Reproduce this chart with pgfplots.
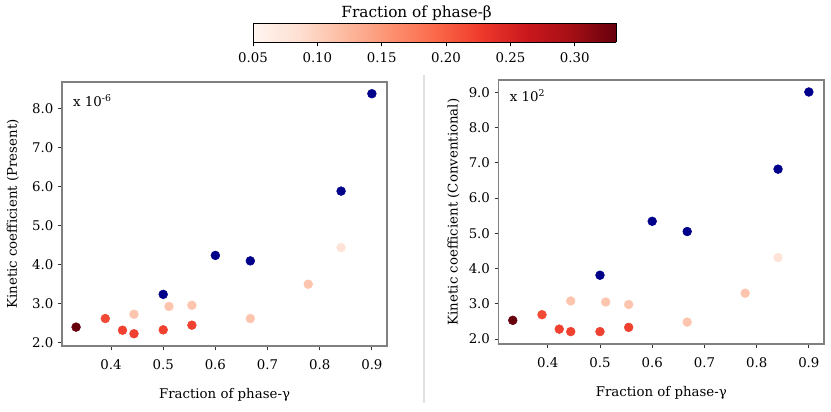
\documentclass[border=0pt]{standalone}
\usepackage{pgfplots}
\pgfplotsset{compat=1.18}
\usepackage{fontspec}
\setmainfont{DejaVu Serif}
\definecolor{axgray}{RGB}{128,128,128}
\definecolor{navyb}{RGB}{0,0,139}
\definecolor{sepgray}{RGB}{225,225,225}
\pgfplotsset{
  colormap={Reds}{rgb255(0)=(255,245,240) rgb255(1)=(254,224,210) rgb255(2)=(252,187,161) rgb255(3)=(252,146,114) rgb255(4)=(251,106,74) rgb255(5)=(239,59,44) rgb255(6)=(203,24,29) rgb255(7)=(165,15,21) rgb255(8)=(103,0,13)},
  kin/.style={
    scale only axis,
    anchor=south west,
    font=\fontsize{10}{12}\selectfont,
    axis line style={axgray, line width=0.9pt},
    tick align=outside, tick pos=left,
    major tick length=3pt,
    tick style={black!80, line width=0.6pt},
    /pgf/number format/assume math mode=true,
    xmin=0.306, xmax=0.929,
    xtick={0.4,0.5,0.6,0.7,0.8,0.9},
    xticklabel style={yshift=-4pt, /pgf/number format/.cd, fixed, fixed zerofill, precision=1},
    yticklabel style={/pgf/number format/.cd, fixed, fixed zerofill, precision=1},
    xlabel={Fraction of phase-γ},
    xlabel style={yshift=-7pt},
    point meta min=0.05, point meta max=0.332,
    colormap name=Reds,
  },
}
\pgfplotstableread{
x y b
0.333 2.40 0.333
0.389 2.62 0.215
0.422 2.32 0.222
0.444 2.73 0.111
0.444 2.23 0.222
0.500 2.33 0.222
0.511 2.93 0.111
0.555 2.96 0.111
0.555 2.45 0.222
0.667 2.62 0.111
0.778 3.50 0.111
0.841 4.44 0.080
}\presred
\pgfplotstableread{
x y
0.500 3.24
0.600 4.24
0.667 4.10
0.841 5.89
0.900 8.39
}\presblue
\pgfplotstableread{
x y b
0.333 2.53 0.333
0.389 2.69 0.215
0.422 2.28 0.222
0.444 3.08 0.111
0.444 2.21 0.222
0.500 2.21 0.222
0.511 3.05 0.111
0.555 2.98 0.111
0.555 2.33 0.222
0.667 2.48 0.111
0.778 3.30 0.111
0.841 4.31 0.080
}\convred
\pgfplotstableread{
x y
0.500 3.81
0.600 5.34
0.667 5.05
0.841 6.82
0.900 9.01
}\convblue
\begin{document}
\begin{tikzpicture}
\useasboundingbox (0,0) rectangle (623.25pt,308.25pt);
\draw[sepgray, line width=1.1pt] (318pt,6pt) -- (318pt,252pt);
\node[font=\fontsize{11.5}{13}\selectfont, anchor=base] at (312.5pt,295pt) {Fraction of phase-β};
% colour bar
\begin{axis}[
  scale only axis, anchor=south west,
  at={(189.75pt,276.5pt)}, width=272.25pt, height=14.3pt,
  view={0}{90},
  xmin=0.05, xmax=0.332, ymin=0, ymax=1,
  ytick=\empty,
  font=\fontsize{10}{12}\selectfont,
  xtick={0.05,0.10,0.15,0.20,0.25,0.30},
  xticklabel style={yshift=-1pt, /pgf/number format/.cd, fixed, fixed zerofill, precision=2},
  /pgf/number format/assume math mode=true,
  axis line style={black, line width=0.6pt},
  tick align=outside, xtick pos=bottom, major tick length=3pt,
  tick style={black, line width=0.6pt},
  colormap name=Reds, point meta min=0.05, point meta max=0.332,
  axis on top,
]
\addplot3[surf, shader=interp, point meta=x] coordinates {
(0.05,0,0) (0.332,0,0)

(0.05,1,0) (0.332,1,0)
};
\end{axis}
% left
\begin{axis}[kin,
  at={(46.5pt,48.75pt)}, width=243.75pt, height=198pt,
  ymin=1.915, ymax=8.69,
  ytick={2,3,4,5,6,7,8},
  ylabel={Kinetic coefficient (Present)},
  ylabel style={yshift=3pt},
]
\addplot[scatter, only marks, mark=*, mark size=3.3pt, scatter/use mapped color={draw=mapped color, fill=mapped color}, point meta=explicit] table[x=x, y=y, meta=b] {\presred};
\addplot[only marks, mark=*, mark size=3.3pt, color=navyb] table[x=x, y=y] {\presblue};
\node[anchor=west, font=\fontsize{10}{12}\selectfont] at (axis description cs:0.02,0.93) {x 10\textsuperscript{-6}};
\end{axis}
% right
\begin{axis}[kin,
  at={(374pt,50.25pt)}, width=244pt, height=198pt,
  ymin=1.858, ymax=9.35,
  ytick={2,3,4,5,6,7,8,9},
  ylabel={Kinetic coefficient (Conventional)},
]
\addplot[scatter, only marks, mark=*, mark size=3.3pt, scatter/use mapped color={draw=mapped color, fill=mapped color}, point meta=explicit] table[x=x, y=y, meta=b] {\convred};
\addplot[only marks, mark=*, mark size=3.3pt, color=navyb] table[x=x, y=y] {\convblue};
\node[anchor=west, font=\fontsize{10}{12}\selectfont] at (axis description cs:0.02,0.94) {x 10\textsuperscript{2}};
\end{axis}
\end{tikzpicture}
\end{document}
